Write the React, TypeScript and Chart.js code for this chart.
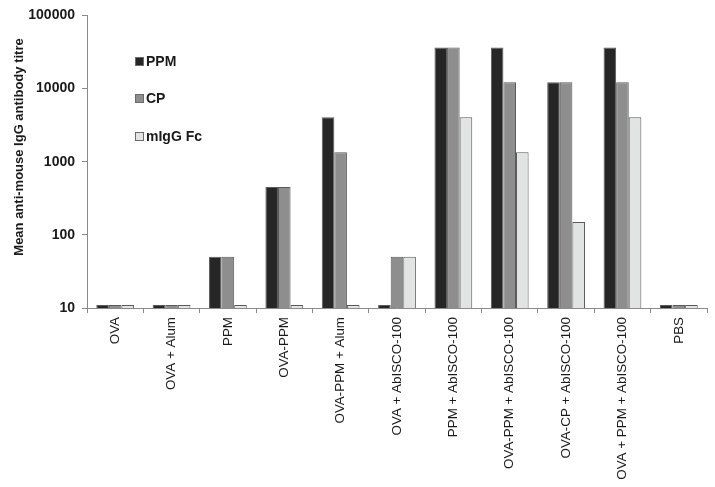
import React, { useEffect, useRef } from "react";
import { Chart, registerables } from "chart.js";
Chart.register(...registerables);

const categories = [
  "OVA",
  "OVA + Alum",
  "PPM",
  "OVA-PPM",
  "OVA-PPM + Alum",
  "OVA + AbISCO-100",
  "PPM + AbISCO-100",
  "OVA-PPM + AbISCO-100",
  "OVA-CP + AbISCO-100",
  "OVA + PPM + AbISCO-100",
  "PBS",
];
const ppm = [11, 11, 50, 450, 4050, 11, 36450, 36450, 12150, 36450, 11];
const cp = [11, 11, 50, 450, 1350, 50, 36450, 12150, 12150, 12150, 11];
const fc = [11, 11, 11, 11, 11, 50, 4050, 1350, 150, 4050, 11];
const seriesNames = ["PPM", "CP", "mIgG Fc"];
const yTicks = [10, 100, 1000, 10000, 100000];
const yTitle = "Mean anti-mouse IgG antibody titre";

const FONT = "'Liberation Sans', Arial, sans-serif";

const legendPlugin = {
  id: "insideLegend",
  afterDraw(chart: any) {
    const ctx = chart.ctx;
    ctx.save();
    const items = chart.data.datasets;
    const x0 = 135;
    const ys = [62, 99, 137];
    items.forEach((ds: any, i: number) => {
      const y = ys[i];
      ctx.fillStyle = ds.backgroundColor;
      ctx.strokeStyle = "#6b6b6b";
      ctx.lineWidth = 1;
      ctx.fillRect(x0, y - 5, 9, 9);
      ctx.strokeRect(x0 + 0.5, y - 4.5, 8, 8);
      ctx.fillStyle = "#1a1a1a";
      ctx.font = `bold 14px ${FONT}`;
      ctx.textBaseline = "middle";
      ctx.textAlign = "left";
      ctx.fillText(ds.label, x0 + 11, y);
    });
    // y axis title
    ctx.translate(19, 147);
    ctx.rotate(-Math.PI / 2);
    ctx.font = `bold 13px ${FONT}`;
    ctx.textAlign = "center";
    ctx.textBaseline = "middle";
    ctx.fillStyle = "#1a1a1a";
    ctx.fillText(yTitle, 0, 0);
    ctx.restore();
  },
};

export default function App() {
  const ref = useRef<HTMLCanvasElement>(null);
  useEffect(() => {
    if (!ref.current) return;
    const colors = ["#262626", "#8e8e8e", "#e2e3e3"];
    const data = [ppm, cp, fc];
    const chart = new Chart(ref.current, {
      type: "bar",
      data: {
        labels: categories,
        datasets: seriesNames.map((n, i) => ({
          label: n,
          data: data[i],
          backgroundColor: colors[i],
          borderColor: "#5a5a5a",
          borderWidth: 1,
          barPercentage: 1.0,
          categoryPercentage: 0.67,
        })),
      },
      options: {
        animation: false,
        responsive: false,
        maintainAspectRatio: false,
        layout: { padding: { top: 12, right: 8, left: 0, bottom: 0 } },
        plugins: { legend: { display: false }, tooltip: { enabled: false } },
        scales: {
          x: {
            grid: {
              display: true,
              drawOnChartArea: false,
              offset: true,
              tickLength: 5,
              color: "#8a8a8a",
            },
            border: { color: "#8a8a8a" },
            ticks: {
              autoSkip: false,
              maxRotation: 90,
              minRotation: 90,
              color: "#1a1a1a",
              font: { family: FONT, size: 13.4 },
              padding: 4,
            },
            afterFit: (s: any) => {
              s.height = 179;
            },
          },
          y: {
            type: "logarithmic",
            min: 10,
            max: 100000,
            grid: {
              display: true,
              drawOnChartArea: false,
              tickLength: 5,
              color: "#8a8a8a",
            },
            border: { color: "#8a8a8a" },
            afterBuildTicks: (s: any) => {
              s.ticks = yTicks.map((v) => ({ value: v }));
            },
            ticks: {
              color: "#1a1a1a",
              font: { family: FONT, size: 14, weight: "bold" },
              padding: 7,
              callback: (v: any) => String(v),
            },
            afterFit: (s: any) => {
              s.width = 87;
            },
          },
        },
      },
      plugins: [legendPlugin],
    });
    return () => chart.destroy();
  }, []);
  return (
    <div style={{ position: "fixed", left: 0, top: 0, width: 715, height: 487, background: "#fff" }}>
      <canvas ref={ref} width={715} height={487} style={{ width: 715, height: 487 }} />
    </div>
  );
}
